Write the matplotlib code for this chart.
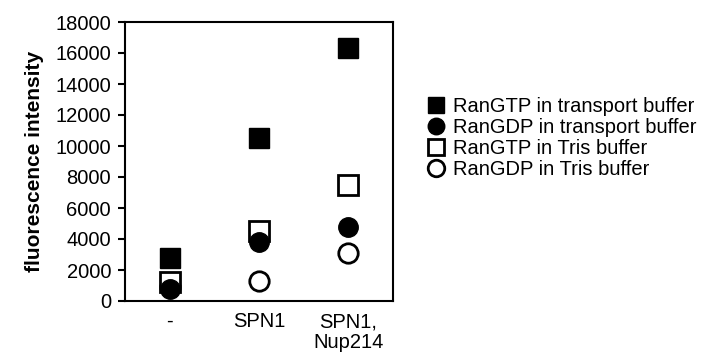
import matplotlib.pyplot as plt

plt.rcParams['font.family'] = ['Liberation Sans', 'DejaVu Sans']

categories = ['-', 'SPN1', 'SPN1,\nNup214']
gtp_transport = [2800, 10500, 16300]
gdp_transport = [800, 3800, 4800]
gtp_tris = [1200, 4500, 7500]
gdp_tris = [900, 1300, 3100]

fig = plt.figure(figsize=(7.12, 3.54), dpi=100)
ax = fig.add_axes([125 / 712, 1 - 301 / 354, (393 - 125) / 712, (301 - 22) / 354])

x = range(len(categories))
ms = 14
ax.plot(x, gdp_tris, 'o', ms=ms, mfc='white', mec='black', mew=2,
        label='RanGDP in Tris buffer', zorder=2)
ax.plot(x, gtp_tris, 's', ms=ms, mfc='white', mec='black', mew=2,
        label='RanGTP in Tris buffer', zorder=3)
ax.plot(x, gdp_transport, 'o', ms=ms, color='black',
        label='RanGDP in transport buffer', zorder=4)
ax.plot(x, gtp_transport, 's', ms=ms, color='black',
        label='RanGTP in transport buffer', zorder=5)

ax.set_xlim(-0.5, 2.5)
ax.set_ylim(0, 18000)
ax.set_yticks(range(0, 18001, 2000))
ax.set_xticks(list(x))
ax.set_xticklabels(categories, fontsize=14.5, va='top', linespacing=1.1)
ax.tick_params(axis='x', length=0, pad=8)
ax.tick_params(axis='y', labelsize=14.5, length=5, width=1.5, direction='out', pad=5)
for s in ax.spines.values():
    s.set_linewidth(1.5)
ax.set_ylabel('fluorescence intensity', fontsize=15, fontweight='bold', labelpad=8)

h, l = ax.get_legend_handles_labels()
order = [3, 2, 1, 0]
leg = fig.legend([h[i] for i in order], [l[i] for i in order],
                 loc='center left', bbox_to_anchor=(408 / 712, 1 - 138 / 354),
                 frameon=False, fontsize=14.5, handletextpad=0.35,
                 labelspacing=0.1, markerscale=0.85, handlelength=1.0)

plt.savefig('out.png', dpi=100)
